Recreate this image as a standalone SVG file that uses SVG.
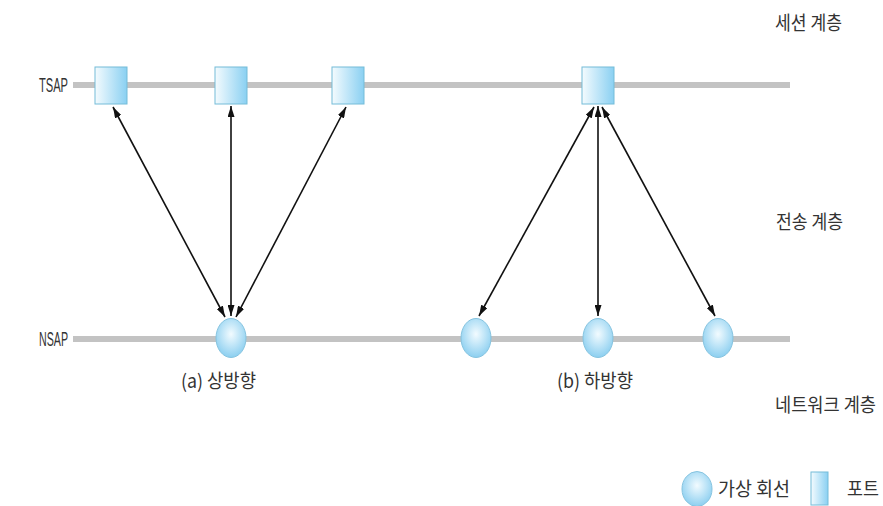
<svg xmlns="http://www.w3.org/2000/svg" width="883" height="506" viewBox="0 0 883 506">
  <style>
    .bus { stroke: #c3c3c3; stroke-width: 6; fill: none; }
    .port { fill: url(#portFill); stroke: #74bcd8; stroke-width: 1; }
    .vc { fill: url(#vcFill); stroke: #86c4e0; stroke-width: 1; }
    .link { stroke: #111; stroke-width: 1.6; fill: none; marker-start: url(#head); marker-end: url(#head); }
    .lbl { font-family: "Noto Sans CJK KR", "Liberation Sans", sans-serif; font-size: 19px; fill: #333; }
    .sap { font-family: "Liberation Sans", "Noto Sans", sans-serif; font-size: 20px; fill: #333; }
  </style>
  <defs>
    <linearGradient id="portFill" x1="0" y1="0" x2="1" y2="0">
      <stop offset="0" stop-color="#f4fbfe"/>
      <stop offset="1" stop-color="#8ad0f2"/>
    </linearGradient>
    <radialGradient id="vcFill" cx="0.5" cy="0.4" r="0.6">
      <stop offset="0" stop-color="#f2fbff"/>
      <stop offset="1" stop-color="#8ccff0"/>
    </radialGradient>
    <marker id="head" viewBox="0 0 11 7" refX="11" refY="3.5" markerWidth="11" markerHeight="7" markerUnits="userSpaceOnUse" orient="auto-start-reverse">
      <path d="M0,0 L11,3.5 L0,7 Z" fill="#111"/>
    </marker>
  </defs>

  <!-- layer captions -->
  <text class="lbl" x="775" y="30" textLength="67" lengthAdjust="spacingAndGlyphs">세션 계층</text>
  <text class="lbl" x="776" y="229" textLength="67" lengthAdjust="spacingAndGlyphs">전송 계층</text>
  <text class="lbl" x="775" y="412" textLength="101" lengthAdjust="spacingAndGlyphs">네트워크 계층</text>

  <!-- access point rows -->
  <g id="buses">
    <line class="bus" x1="73" y1="85" x2="790" y2="85"/>
    <line class="bus" x1="73" y1="339" x2="790" y2="339"/>
    <text class="sap" x="39" y="92" textLength="29" lengthAdjust="spacingAndGlyphs">TSAP</text>
    <text class="sap" x="39" y="346" textLength="29" lengthAdjust="spacingAndGlyphs">NSAP</text>
  </g>

  <!-- connectors -->
  <g id="links">
    <line class="link" x1="113" y1="107" x2="225" y2="317"/>
    <line class="link" x1="231" y1="106" x2="231" y2="316"/>
    <line class="link" x1="346" y1="107" x2="236" y2="317"/>
    <line class="link" x1="594" y1="107" x2="479" y2="316"/>
    <line class="link" x1="598" y1="106" x2="598" y2="316"/>
    <line class="link" x1="602" y1="107" x2="715" y2="316"/>
  </g>

  <!-- ports (TSAP) -->
  <g id="port1"><rect class="port" x="95" y="67" width="32" height="37"/></g>
  <g id="port2"><rect class="port" x="215" y="67" width="32" height="37"/></g>
  <g id="port3"><rect class="port" x="332" y="67" width="32" height="37"/></g>
  <g id="port4"><rect class="port" x="582" y="67" width="32" height="37"/></g>

  <!-- virtual circuits (NSAP) -->
  <g id="vc1"><ellipse class="vc" cx="231" cy="338" rx="15" ry="19.5"/></g>
  <g id="vc2"><ellipse class="vc" cx="476" cy="338" rx="15" ry="19.5"/></g>
  <g id="vc3"><ellipse class="vc" cx="598" cy="338" rx="15" ry="19.5"/></g>
  <g id="vc4"><ellipse class="vc" cx="718" cy="338" rx="15" ry="19.5"/></g>

  <!-- case captions -->
  <text class="lbl" x="181" y="388" textLength="75" lengthAdjust="spacingAndGlyphs">(a) 상방향</text>
  <text class="lbl" x="557" y="388" textLength="76" lengthAdjust="spacingAndGlyphs">(b) 하방향</text>

  <!-- legend -->
  <g id="legend">
    <ellipse class="vc" cx="697" cy="489" rx="15" ry="17.5"/>
    <text class="lbl" x="718" y="496" textLength="72" lengthAdjust="spacingAndGlyphs">가상 회선</text>
    <rect class="port" x="811" y="472" width="17" height="33"/>
    <text class="lbl" x="847" y="496" textLength="32" lengthAdjust="spacingAndGlyphs">포트</text>
  </g>
</svg>
